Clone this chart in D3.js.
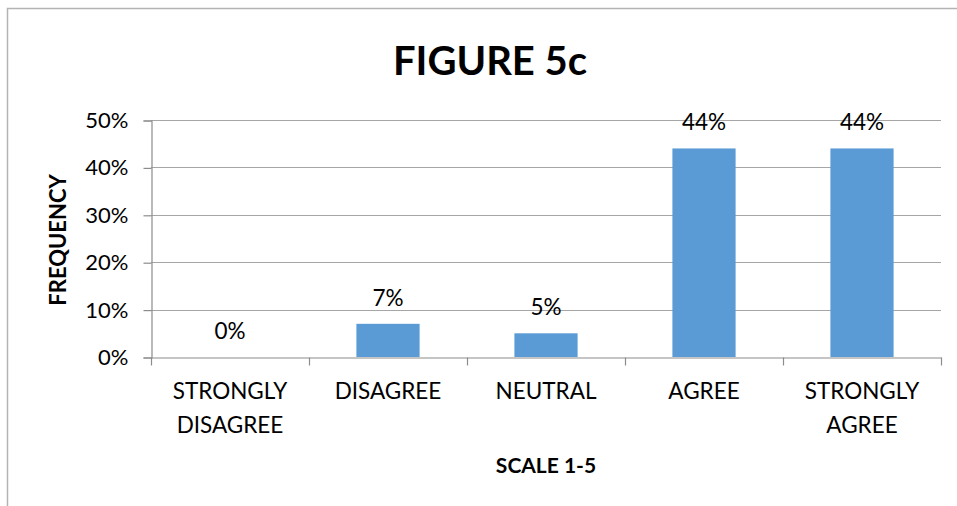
<!DOCTYPE html>
<html>
<head>
<meta charset="utf-8">
<script src="https://cdn.jsdelivr.net/npm/d3@7"></script>
<style>
  html, body { margin: 0; padding: 0; background: #fff; }
  svg { display: block; }
  text { font-family: Lato, "Open Sans", sans-serif; fill: #000; }
</style>
</head>
<body>
<svg id="chart" width="957" height="506"></svg>
<script>
// Responses on a 1-5 agreement scale
const categories = [["STRONGLY", "DISAGREE"], ["DISAGREE"], ["NEUTRAL"], ["AGREE"], ["STRONGLY", "AGREE"]];
const values = [0, 7, 5, 44, 44];
const yTicks = [0, 10, 20, 30, 40, 50];
const titleText = "FIGURE 5c";
const xTitle = "SCALE 1-5";
const yTitle = "FREQUENCY";

const svg = d3.select("#chart");
const plot = { left: 151, right: 941, top: 120, bottom: 357 };

// chart frame (only left and top edges fall inside the view)
svg.append("rect")
  .attr("x", 7.5).attr("y", 8.5)
  .attr("width", 1200).attr("height", 800)
  .attr("fill", "#fff").attr("stroke", "#b3b3b3").attr("stroke-width", 1.5);

const x = d3.scaleBand()
  .domain(d3.range(categories.length))
  .range([plot.left, plot.right])
  .paddingInner(0).paddingOuter(0);

const y = d3.scaleLinear().domain([0, 50]).range([plot.bottom, plot.top]);

// horizontal gridlines
svg.append("g")
  .selectAll("line")
  .data(yTicks.filter(t => t > 0))
  .join("line")
  .attr("x1", plot.left).attr("x2", plot.right)
  .attr("y1", d => Math.round(y(d)) + 0.5).attr("y2", d => Math.round(y(d)) + 0.5)
  .attr("stroke", "#a6a6a6").attr("stroke-width", 1.2);

// y axis
const yAxis = d3.axisLeft(y)
  .tickValues(yTicks)
  .tickFormat(d => d + "%")
  .tickSize(8)
  .tickPadding(15);
const gy = svg.append("g")
  .attr("transform", `translate(${plot.left + 0.5},0.5)`)
  .call(yAxis);
gy.select(".domain").attr("stroke", "#8c8c8c").attr("stroke-width", 1.2);
gy.selectAll(".tick line").attr("stroke", "#8c8c8c").attr("stroke-width", 1.2);
gy.selectAll(".tick text")
  .style("font-family", "Lato, sans-serif")
  .style("font-size", "22px")
  .attr("fill", "#000");

// bars
const barW = x.step() * 0.4;
svg.append("g")
  .selectAll("rect")
  .data(values)
  .join("rect")
  .attr("x", (d, i) => x(i) + (x.step() - barW) / 2)
  .attr("width", barW)
  .attr("y", d => y(d))
  .attr("height", d => y(0) - y(d))
  .attr("fill", "#5b9bd5");

// x axis
const xAxis = d3.axisBottom(x).tickSize(0).tickFormat("");
const gx = svg.append("g")
  .attr("transform", `translate(0,${Math.round(y(0)) + 0.5})`)
  .call(xAxis);
gx.select(".domain").attr("stroke", "#8c8c8c").attr("stroke-width", 1.2);
// tick marks between categories
gx.selectAll(".sep")
  .data(d3.range(categories.length + 1))
  .join("line")
  .attr("class", "sep")
  .attr("x1", i => Math.round(plot.left + i * x.step()) + 0.5)
  .attr("x2", i => Math.round(plot.left + i * x.step()) + 0.5)
  .attr("y1", 0).attr("y2", 8)
  .attr("stroke", "#8c8c8c").attr("stroke-width", 1.2);

// category labels
const labels = svg.append("g");
categories.forEach((lines, i) => {
  const t = labels.append("text")
    .attr("x", x(i) + x.step() / 2)
    .attr("y", 399)
    .attr("text-anchor", "middle")
    .style("font-size", "22.5px");
  lines.forEach((ln, j) => {
    t.append("tspan")
      .attr("x", x(i) + x.step() / 2)
      .attr("dy", j === 0 ? 0 : 34)
      .text(ln);
  });
});

// value labels above bars
svg.append("g")
  .selectAll("text")
  .data(values)
  .join("text")
  .attr("x", (d, i) => x(i) + x.step() / 2)
  .attr("y", d => y(d) - 18)
  .attr("text-anchor", "middle")
  .style("font-size", "22.5px")
  .text(d => d + "%");

// titles
svg.append("text")
  .attr("x", 490).attr("y", 75)
  .attr("text-anchor", "middle")
  .style("font-size", "40px").style("font-weight", "bold")
  .text(titleText);

svg.append("text")
  .attr("x", 546).attr("y", 473)
  .attr("text-anchor", "middle")
  .style("font-size", "21px").style("font-weight", "bold")
  .text(xTitle);

svg.append("text")
  .attr("transform", "translate(66,240) rotate(-90)")
  .attr("text-anchor", "middle")
  .style("font-size", "22px").style("font-weight", "bold")
  .text(yTitle);
</script>
</body>
</html>
